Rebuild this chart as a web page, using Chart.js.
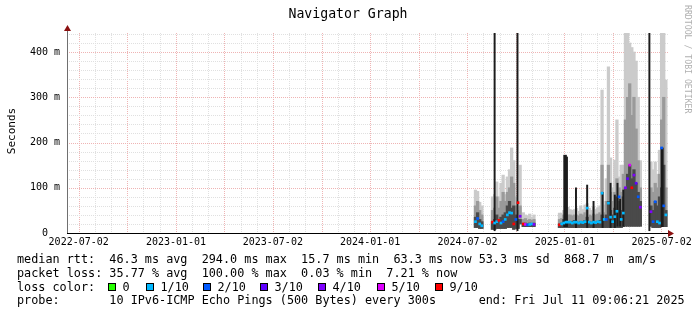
<!DOCTYPE html>
<html>
<head>
<meta charset="utf-8">
<title>Navigator Graph</title>
<script src="https://cdn.jsdelivr.net/npm/chart.js@4.4.1/dist/chart.umd.min.js"></script>
<style>
  html, body { margin: 0; padding: 0; background: #fff; }
  canvas { display: block; }
</style>
</head>
<body>
<canvas id="graph" width="697" height="315"></canvas>
<script>
// x values are days since 2022-07-02, y values are milliseconds
const xTickLabels = ['2022-07-02', '2023-01-01', '2023-07-02', '2024-01-01', '2024-07-02', '2025-01-01', '2025-07-02'];
const yTickValues = [0, 100, 200, 300, 400];

// smoke per time bucket
const smokeDays = [746, 750, 754, 758,
    778, 782, 786, 790, 794, 798, 802, 806, 810, 814, 818, 822, 826, 830,
    836, 840, 844, 848, 852, 856,
    904, 908, 912, 916, 920, 924, 928, 932, 936, 940, 944, 948, 952, 956, 960, 964, 968, 972, 976, 980,
    984, 988, 992, 996, 1000, 1004, 1008, 1012, 1016, 1020, 1024, 1028, 1032, 1036, 1040, 1044, 1048, 1052, 1056,
    1076, 1080, 1084, 1088, 1092, 1096, 1100, 1104];
const smokeMin = [12, 12, 10, 10,
    8, 8, 10, 10, 10, 10, 10, 12, 12, 12, 8, 10, 10, 20,
    14, 14, 14, 14, 14, 14,
    12, 12, 12, 12, 12, 12, 12, 12, 12, 12, 12, 12, 12, 12, 12, 12, 12, 12, 12, 12,
    12, 12, 12, 12, 12, 12, 12, 12, 12, 12, 14, 15, 15, 15, 15, 15, 15, 15, 15,
    15, 12, 12, 12, 12, 14, 14, 14];
const smokeCore = [35, 45, 30, 25,
    25, 30, 40, 30, 35, 40, 45, 60, 70, 55, 60, 40, 30, 30,
    20, 22, 20, 22, 20, 22,
    20, 22, 30, 30, 25, 25, 25, 28, 25, 22, 25, 24, 28, 35, 25, 24, 26, 24, 26, 28,
    40, 30, 40, 70, 50, 40, 55, 80, 70, 50, 80, 100, 130, 150, 120, 140, 110, 90, 70,
    60, 50, 70, 60, 80, 100, 150, 50];
const smokeHigh = [60, 70, 50, 40,
    50, 55, 80, 55, 70, 90, 70, 90, 100, 124, 110, 60, 50, 60,
    30, 32, 28, 30, 28, 30,
    30, 32, 40, 40, 40, 40, 38, 40, 40, 38, 42, 40, 45, 50, 40, 38, 42, 40, 42, 45,
    150, 45, 70, 150, 90, 70, 90, 120, 100, 90, 130, 250, 300, 330, 260, 300, 230, 160, 100,
    100, 90, 110, 100, 130, 250, 300, 100];
const smokeMax = [95, 92, 68, 60,
    80, 85, 113, 80, 110, 128, 85, 124, 140, 188, 160, 80, 70, 150,
    45, 40, 38, 42, 35, 40,
    44, 44, 50, 50, 57, 52, 50, 52, 55, 48, 60, 52, 62, 65, 55, 50, 58, 52, 56, 60,
    316, 62, 120, 367, 166, 100, 161, 250, 124, 150, 150, 442, 442, 420, 410, 400, 380, 300, 160,
    157, 140, 157, 130, 183, 442, 442, 338];
const medianRtt = [25, 32, 20, 16,
    24, 22, 25, 28, 22, 25, 30, 40, 45, 44, 20, 30, 67, 37,
    20, 19, 18, 19, 20, 19,
    18, 20, 22, 24, 24, 24, 22, 24, 24, 22, 24, 23, 25, 55, 24, 22, 24, 23, 25, 24,
    88, 30, 30, 66, 35, 25, 36, 48, 80, 30, 44, 100, 120, 150, 100, 128, 110, 80, 57,
    47, 25, 69, 25, 22, 188, 60, 40];
const lossTenths = [1, 2, 1, 1,
    9, 1, 1, 9, 1, 2, 1, 1, 1, 1, 9, 2, 9, 4,
    9, 5, 2, 1, 1, 4,
    9, 1, 1, 1, 1, 1, 1, 1, 1, 1, 1, 1, 1, 1, 1, 1, 1, 1, 1, 1,
    1, 1, 2, 1, 1, 1, 1, 1, 2, 1, 1, 4, 3, 5, 9, 4, 3, 2, 4,
    4, 2, 2, 1, 1, 2, 2, 1];

// thin black spikes
const spikeDays = [782, 825, 913, 916, 918, 935, 956, 968, 985, 1000, 1008, 1013, 1018, 1024, 1073, 1096, 1098];
const spikeLow = [5, 5, 14, 14, 14, 12, 12, 12, 12, 12, 12, 15, 15, 15, 5, 14, 14];
const spikeHigh = [442, 442, 172, 172, 168, 100, 106, 70, 90, 110, 84, 110, 75, 95, 442, 188, 188];

const lossSteps = [0, 1, 2, 3, 4, 5, 9];
const lossLabels = ['0', '1/10', '2/10', '3/10', '4/10', '5/10', '9/10'];
const lossColors = ['#26ff00', '#00b8ff', '#0059ff', '#5e00ff', '#7e00ff', '#dd00ff', '#ff0000'];

const statLines = [
    'median rtt:  46.3 ms avg  294.0 ms max  15.7 ms min  63.3 ms now 53.3 ms sd  868.7 m  am/s',
    'packet loss: 35.77 % avg  100.00 % max  0.03 % min  7.21 % now',
    'loss color:',
    'probe:       10 IPv6-ICMP Echo Pings (500 Bytes) every 300s      end: Fri Jul 11 09:06:21 2025'
];

const DAY0 = Date.parse('2022-07-02T00:00:00Z');
const dayOf = s => Math.round((Date.parse(s + 'T00:00:00Z') - DAY0) / 86400000);
const xTickDays = xTickLabels.map(dayOf);
const monthDays = 365.25 / 12;
const MONO = '"DejaVu Sans Mono", "Liberation Mono", monospace';

function colorForLoss(t) {
    return lossColors[lossSteps.indexOf(t)];
}

function smokeLayer(top) {
    return smokeDays.map((d, i) => ({ x: d, y: [smokeMin[i], top[i]] }));
}

const rrdDecor = {
    id: 'rrdDecor',
    beforeDraw(chart) {
        const ctx = chart.ctx;
        ctx.save();
        ctx.fillStyle = '#fff';
        ctx.fillRect(0, 0, chart.width, chart.height);
        ctx.restore();
    },
    beforeDatasetsDraw(chart) {
        const { ctx, chartArea: a, scales: { x, y } } = chart;
        ctx.save();
        ctx.lineWidth = 1;
        ctx.setLineDash([1, 1]);
        // vertical grid, monthly minor / quarterly major
        for (let k = 0; k * monthDays <= x.max; k++) {
            const px = Math.round(x.getPixelForValue(k * monthDays)) + 0.5;
            ctx.strokeStyle = k % 3 === 0 ? '#efb4b4' : '#e0e0e0';
            ctx.beginPath();
            ctx.moveTo(px, a.top);
            ctx.lineTo(px, a.bottom);
            ctx.stroke();
        }
        // horizontal grid
        for (let v = 20; v <= y.max; v += 20) {
            const py = Math.round(y.getPixelForValue(v)) + 0.5;
            ctx.strokeStyle = v % 100 === 0 ? '#efb4b4' : '#e0e0e0';
            ctx.beginPath();
            ctx.moveTo(a.left, py);
            ctx.lineTo(a.right, py);
            ctx.stroke();
        }
        ctx.restore();
    },
    afterDatasetsDraw(chart) {
        const { ctx, chartArea: a } = chart;
        ctx.save();
        ctx.lineWidth = 1;
        // axes with arrows
        ctx.strokeStyle = '#707070';
        ctx.beginPath();
        ctx.moveTo(a.left + 0.5, a.bottom);
        ctx.lineTo(a.left + 0.5, a.top - 2);
        ctx.stroke();
        ctx.strokeStyle = '#000';
        ctx.beginPath();
        ctx.moveTo(a.left, a.bottom + 0.5);
        ctx.lineTo(a.right, a.bottom + 0.5);
        ctx.stroke();
        ctx.fillStyle = '#8b1010';
        ctx.beginPath();
        ctx.moveTo(a.left - 3, a.top - 2);
        ctx.lineTo(a.left + 4, a.top - 2);
        ctx.lineTo(a.left + 0.5, a.top - 8);
        ctx.closePath();
        ctx.fill();
        ctx.beginPath();
        ctx.moveTo(a.right, a.bottom - 3);
        ctx.lineTo(a.right, a.bottom + 4);
        ctx.lineTo(a.right + 6, a.bottom + 0.5);
        ctx.closePath();
        ctx.fill();
        ctx.restore();
    },
    afterDraw(chart) {
        const ctx = chart.ctx;
        ctx.save();
        ctx.fillStyle = '#000';

        // title
        ctx.font = '13.2px ' + MONO;
        ctx.textAlign = 'center';
        ctx.textBaseline = 'alphabetic';
        ctx.fillText('Navigator Graph', 348, 18);

        // vertical axis title
        ctx.save();
        ctx.translate(15, 131);
        ctx.rotate(-Math.PI / 2);
        ctx.font = '11px ' + MONO;
        ctx.textAlign = 'center';
        ctx.fillText('Seconds', 0, 0);
        ctx.restore();

        // watermark
        ctx.save();
        ctx.translate(685, 5);
        ctx.rotate(Math.PI / 2);
        ctx.font = '8.2px ' + MONO;
        ctx.fillStyle = '#b0b0b0';
        ctx.textAlign = 'left';
        ctx.fillText('RRDTOOL / TOBI OETIKER', 0, 0);
        ctx.restore();

        // legend lines
        ctx.font = '11.8px ' + MONO;
        ctx.textAlign = 'left';
        const baselines = [263, 276.8, 290.6, 304.4];
        statLines.forEach((s, i) => ctx.fillText(s, 17, baselines[i]));

        const boxX = [108, 146, 203, 260, 318, 377, 435];
        lossLabels.forEach((lab, i) => {
            ctx.fillStyle = lossColors[i];
            ctx.fillRect(boxX[i], 283, 8, 8);
            ctx.strokeStyle = '#000';
            ctx.lineWidth = 1;
            ctx.strokeRect(boxX[i] + 0.5, 283.5, 7, 7);
            ctx.fillStyle = '#000';
            ctx.fillText(lab, boxX[i] + 14.5, baselines[2]);
        });
        ctx.restore();
    }
};

const tickFont = { family: MONO, size: 10 };

new Chart(document.getElementById('graph'), {
    type: 'bar',
    data: {
        datasets: [
            {
                type: 'line',
                label: 'median rtt',
                data: smokeDays.map((d, i) => ({ x: d, y: medianRtt[i] })),
                showLine: false,
                pointStyle: 'rect',
                pointRadius: 1.9,
                pointBorderWidth: 0,
                pointBackgroundColor: lossTenths.map(colorForLoss),
                order: 0
            },
            {
                label: 'spikes',
                data: spikeDays.map((d, i) => ({ x: d, y: [spikeLow[i], spikeHigh[i]] })),
                backgroundColor: '#1c1c1c',
                barThickness: 1.3,
                grouped: false,
                order: 1
            },
            {
                label: 'core',
                data: smokeLayer(smokeCore),
                backgroundColor: '#4a4a4a',
                barThickness: 2.6,
                grouped: false,
                order: 2
            },
            {
                label: 'high',
                data: smokeLayer(smokeHigh),
                backgroundColor: '#9a9a9a',
                barThickness: 2.6,
                grouped: false,
                order: 3
            },
            {
                label: 'max',
                data: smokeLayer(smokeMax),
                backgroundColor: '#cbcbcb',
                barThickness: 2.6,
                grouped: false,
                order: 4
            }
        ]
    },
    options: {
        responsive: false,
        animation: false,
        events: [],
        layout: { padding: { top: 33, right: 29, bottom: 0, left: 0 } },
        plugins: {
            legend: { display: false },
            title: { display: false },
            tooltip: { enabled: false }
        },
        scales: {
            x: {
                type: 'linear',
                offset: false,
                min: -22,
                max: 1108,
                grid: { display: false, drawTicks: false, offset: false },
                border: { display: false },
                ticks: {
                    autoSkip: false,
                    maxRotation: 0,
                    padding: 3,
                    color: '#000',
                    font: tickFont,
                    callback: (v, i) => xTickLabels[i]
                },
                afterBuildTicks: s => { s.ticks = xTickDays.map(v => ({ value: v })); },
                afterFit: s => { s.height = 82; }
            },
            y: {
                min: 0,
                max: 442,
                grid: { display: false, drawTicks: false },
                border: { display: false },
                ticks: {
                    padding: 7,
                    color: '#000',
                    font: tickFont,
                    callback: v => (v === 0 ? '0  ' : v + ' m')
                },
                afterBuildTicks: s => { s.ticks = yTickValues.map(v => ({ value: v })); },
                afterFit: s => { s.width = 67; }
            }
        }
    },
    plugins: [rrdDecor]
});
</script>
</body>
</html>
